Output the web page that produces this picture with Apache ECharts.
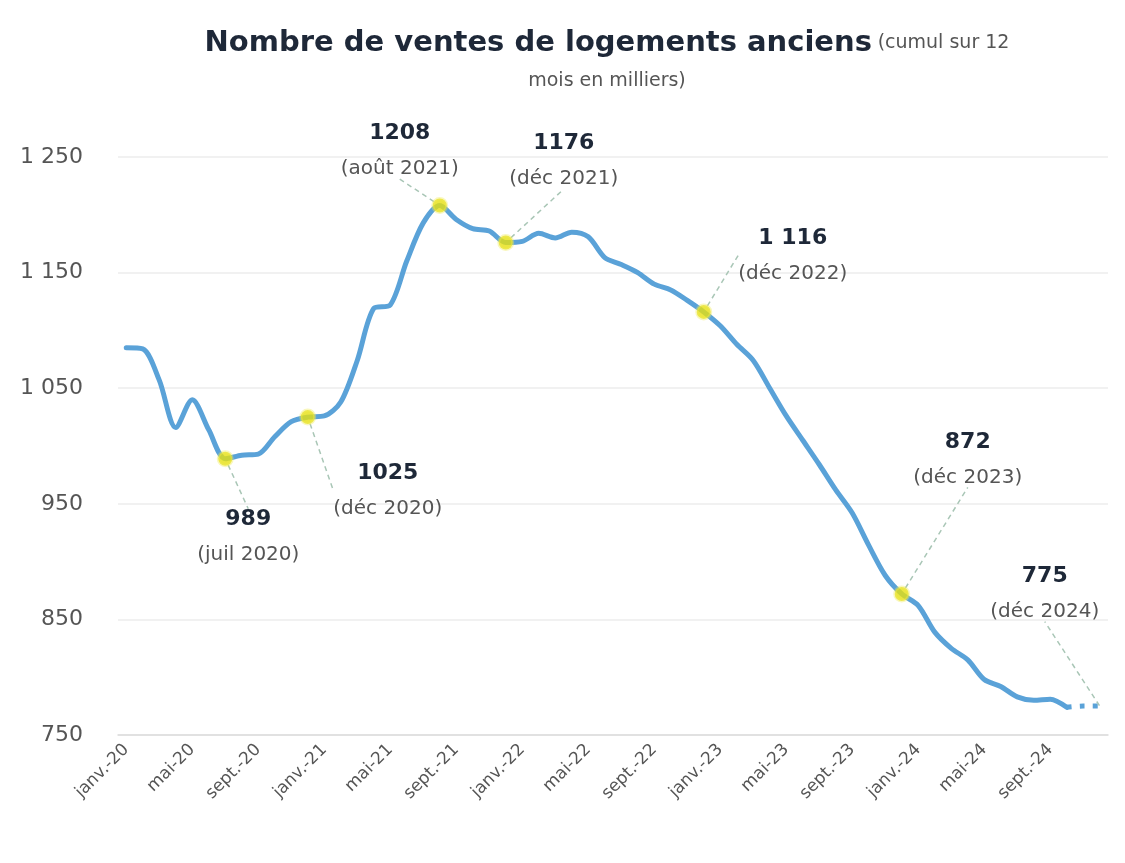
<!DOCTYPE html>
<html lang="fr">
<head>
    <meta charset="UTF-8">
    <title>Ventes de logements anciens</title>
    <script src="https://cdn.jsdelivr.net/npm/echarts@6/dist/echarts.min.js"></script>
    <style>
        html, body { margin: 0; padding: 0; background: #fff; }
        #main { width: 1125px; height: 863px; }
    </style>
</head>
<body>
<div id="main"></div>
<script>
    // mois de janv. 2020 a dec. 2024
    const monthNames = ['janv.', 'févr.', 'mars', 'avr.', 'mai', 'juin', 'juil.', 'août', 'sept.', 'oct.', 'nov.', 'déc.']
    const years = ['20', '21', '22', '23', '24']
    const months = []
    for (const y of years) {
        for (const m of monthNames) months.push(m + '-' + y)
    }

    // cumul sur 12 mois, en milliers
    const ventes = [
        1085, 1084, 1057, 1016, 1040, 1014, 989, 992, 993, 1008, 1021, 1025,
        1026, 1038, 1074, 1119, 1122, 1160, 1193, 1208, 1196, 1188, 1186, 1176,
        1177, 1184, 1180, 1185, 1181, 1163, 1157, 1150, 1140, 1135, 1126, 1116,
        1104, 1088, 1074, 1050, 1026, 1005, 984, 962, 942, 914, 888, 872,
        862, 839, 825, 815, 798, 792, 783, 780, 781, 774, 775, 775
    ]
    const lastSolid = 57 // nov. et dec. 2024 en pointilles

    // points annotes
    const hlIndex = [6, 11, 19, 23, 35, 47, 59]
    const hlValue = ['989', '1025', '1208', '1176', '1 116', '872', '775']
    const hlDate = ['juil 2020', 'déc 2020', 'août 2021', 'déc 2021', 'déc 2022', 'déc 2023', 'déc 2024']
    const hlOffset = [[23, 78], [80, 73], [-40, -55], [58, -82], [89, -57], [66, -135], [-55, -113]]

    const yTicks = { min: 750, max: 1250, step: 100 }

    const solid = ventes.map((v, i) => i <= lastSolid ? v : null)
    const dashed = ventes.map((v, i) => i >= lastSolid ? v : null)
    const hlData = hlIndex.map((idx, k) => ({
        value: [months[idx], ventes[idx]],
        symbolSize: idx === 59 ? 1 : 14,
        itemStyle: idx === 59 ? { color: 'rgba(0,0,0,0)', borderWidth: 0 } : undefined,
        label: { formatter: '{v|' + hlValue[k] + '}\n{d|(' + hlDate[k] + ')}' }
    }))

    const fontFamily = '"DejaVu Sans", "Open Sans", sans-serif'
    const option = {
        textStyle: { fontFamily: fontFamily },
        title: {
            left: 602,
            textAlign: 'center',
            top: 19,
            text: '{b|Nombre de ventes de logements anciens} {s|(cumul sur 12}\n{s|mois en milliers)}',
            textStyle: {
                fontWeight: 'normal',
                rich: {
                    b: { fontSize: 29, fontWeight: 'bold', color: '#1e2838', lineHeight: 38, fontFamily: fontFamily },
                    s: { fontSize: 19, fontWeight: 'normal', color: '#555', lineHeight: 38, fontFamily: fontFamily }
                }
            }
        },
        grid: { left: 118, right: 17, top: 157, bottom: 128 },
        xAxis: {
            type: 'category',
            data: months,
            boundaryGap: true,
            axisLine: { lineStyle: { color: '#dcdcdc', width: 1.5 } },
            axisTick: { interval: 3, length: 6, lineStyle: { color: '#dcdcdc' } },
            axisLabel: {
                interval: 3,
                rotate: 45,
                margin: 12,
                fontSize: 17,
                color: '#555',
                fontFamily: fontFamily
            },
            splitLine: { show: false }
        },
        yAxis: {
            type: 'value',
            min: yTicks.min,
            max: yTicks.max,
            interval: yTicks.step,
            axisLine: { show: false },
            axisTick: { show: false },
            axisLabel: {
                margin: 35,
                fontSize: 22,
                color: '#555',
                fontFamily: fontFamily,
                formatter: v => v >= 1000 ? String(v).replace(/^(\d)(\d{3})$/, '$1 $2') : String(v)
            },
            splitLine: { lineStyle: { color: '#ececec', width: 1.5 } }
        },
        series: [
            {
                type: 'line',
                data: solid,
                smooth: 0.3,
                symbol: 'none',
                lineStyle: { color: '#5aa2d8', width: 5, cap: 'round' },
                z: 2
            },
            {
                type: 'line',
                data: dashed,
                smooth: 0.3,
                symbol: 'none',
                lineStyle: { color: '#5aa2d8', width: 5, type: [5, 8] },
                z: 2
            },
            {
                type: 'scatter',
                data: hlData,
                itemStyle: { color: '#e6e010', borderColor: 'rgba(240,235,90,0.5)', borderWidth: 3 },
                z: 3,
                label: {
                    show: true,
                    position: 'inside',
                    align: 'center',
                    color: '#1e2838',
                    opacity: 1,
                    textBorderWidth: 0,
                    rich: {
                        v: { fontSize: 22, fontWeight: 'bold', color: '#1e2838', textBorderWidth: 0, lineHeight: 37, fontFamily: fontFamily },
                        d: { fontSize: 20, color: '#555', textBorderWidth: 0, lineHeight: 34, fontFamily: fontFamily }
                    }
                },
                labelLayout: function (params) {
                    const o = hlOffset[params.dataIndex]
                    return { dx: o[0], dy: o[1] }
                },
                labelLine: {
                    show: true,
                    lineStyle: { color: '#a9c6b6', width: 1.5, type: [5, 4] }
                }
            }
        ]
    }

    const chart = echarts.init(document.getElementById('main'))
    chart.setOption(option)
</script>
</body>
</html>
